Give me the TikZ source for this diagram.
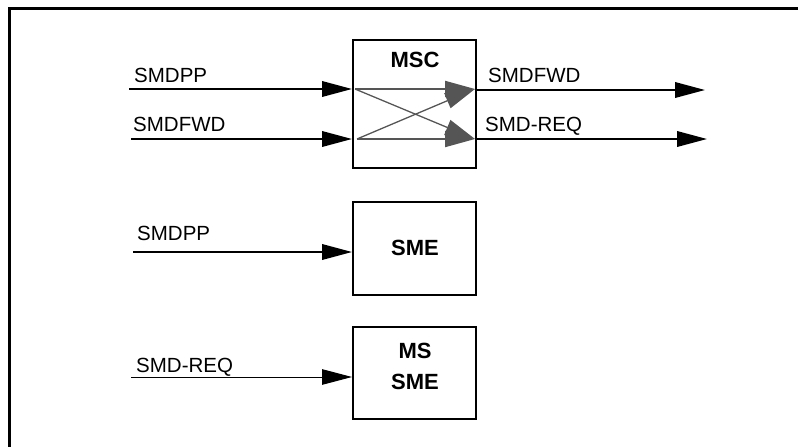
\documentclass[tikz,border=0pt]{standalone}
\usepackage{fontspec}
\setmainfont{Liberation Sans}
\usetikzlibrary{arrows.meta}
\definecolor{innergray}{HTML}{555555}
\begin{document}
\begin{tikzpicture}[x=1pt,y=-1pt,
  blockbox/.style={draw=black,line width=2pt,minimum width=123pt,inner sep=0pt},
  sig/.style={font=\fontsize{20.5}{24}\selectfont,anchor=base west,inner sep=0pt},
  title/.style={font=\fontsize{22}{26}\selectfont\bfseries,anchor=base,inner sep=0pt},
  flow/.style={line width=2pt,-{Triangle[length=30pt,width=15.5pt]}},
  thinflow/.style={line width=1pt,-{Triangle[length=30pt,width=15.5pt]}},
  cross/.style={draw=innergray,line width=1.3pt},
  crosshead/.style={draw=innergray,line width=2pt,-{Triangle[length=30pt,width=16pt,fill=innergray,color=innergray]}}]
\useasboundingbox (0,0) rectangle (798,447);
% outer frame (only top and left visible)
\draw[line width=3pt] (9,447) -- (9,8.5) -- (798,8.5);
% boxes
\node[blockbox,minimum height=128pt] (msc) at (414.5,104) {};
\node[blockbox,minimum height=93pt] (sme) at (414.5,248.5) {};
\node[blockbox,minimum height=92pt] (mssme) at (414.5,373) {};
% titles
\node[title] (tmsc) at (415,67.7) {MSC};
\node[title] (tsme) at (415,255) {SME};
\node[title] (tms1) at (415,358) {MS};
\node[title] (tms2) at (415,389) {SME};
% input coordinates
\coordinate (in1) at (129,89);
\coordinate (in2) at (131,139);
\coordinate (in3) at (133,252);
\coordinate (in4) at (131,377);
\coordinate (out1) at (705,90);
\coordinate (out2) at (707,139);
% inner points of MSC
\coordinate (a1) at (355,89);
\coordinate (a2) at (357,139);
\coordinate (b1) at (475,89);
\coordinate (b2) at (475,139);
% labels
\node[sig] (l1) at (134,82) {SMDPP};
\node[sig] (l2) at (133,131) {SMDFWD};
\node[sig] (l3) at (488,82) {SMDFWD};
\node[sig] (l4) at (485,131) {SMD-REQ};
\node[sig] (l5) at (137,240) {SMDPP};
\node[sig] (l6) at (136,372) {SMD-REQ};
% connectors
\draw[flow] (in1) -- (msc.west |- in1);
\draw[flow] (in2) -- (msc.west |- in2);
\draw[flow] (msc.east |- out1) -- (out1);
\draw[flow] (msc.east |- out2) -- (out2);
\draw[flow] (in3) -- (sme.west |- in3);
\draw[thinflow] (in4) -- (mssme.west |- in4);
% inner crossing arrows
\draw[cross,-{Triangle[length=30pt,width=16pt,color=innergray]}] (a1) -- (b2);
\draw[cross,-{Triangle[length=30pt,width=16pt,color=innergray]}] (a2) -- (b1);
\draw[crosshead] (a1) -- (b1);
\draw[crosshead] (a2) -- (b2);
\end{tikzpicture}
\end{document}
